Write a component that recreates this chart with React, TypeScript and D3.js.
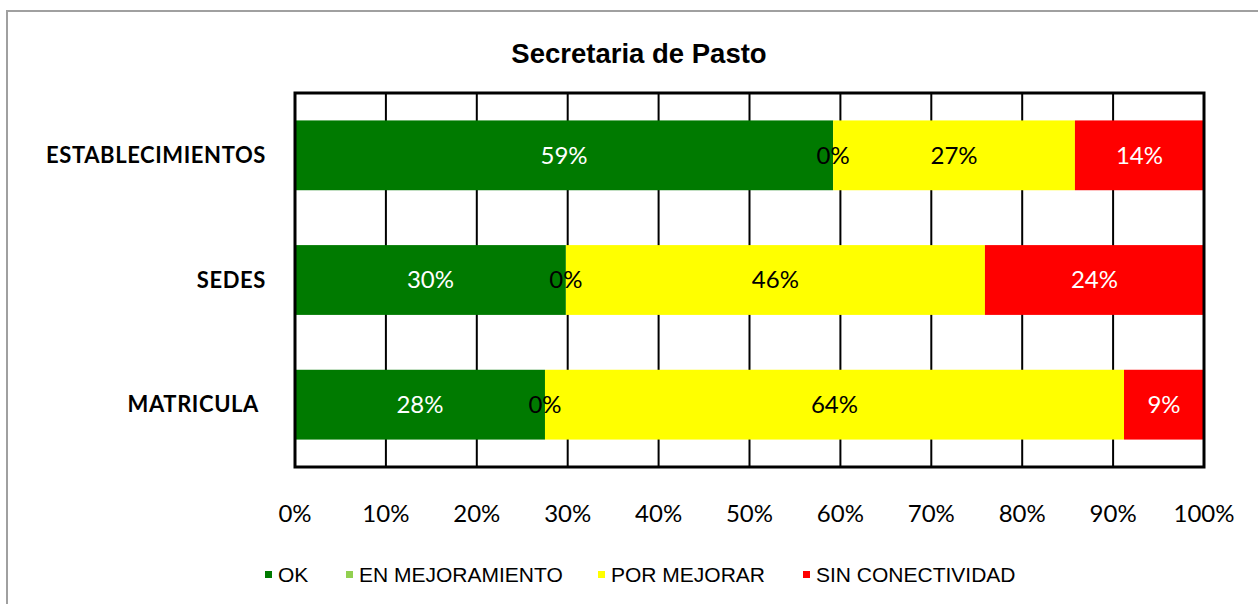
import * as d3 from "d3";

const W = 1258;
const H = 604;
const PLOT = { left: 295, right: 1204, top: 93, bottom: 467 };

const title = "Secretaria de Pasto";
const categories = ["ESTABLECIMIENTOS", "SEDES", "MATRICULA"];
const seriesNames = ["OK", "EN MEJORAMIENTO", "POR MEJORAR", "SIN CONECTIVIDAD"];
const seriesColors = ["#007a00", "#92d050", "#ffff00", "#ff0000"];
const labelColors = ["#ffffff", "#000000", "#000000", "#ffffff"];
// percentages per category, in series order
const okValues = [59.2, 29.8, 27.5];
const mejoramientoValues = [0, 0, 0];
const porMejorarValues = [26.6, 46.1, 63.7];
const sinConectividadValues = [14.2, 24.1, 8.8];
const xTicks = [0, 10, 20, 30, 40, 50, 60, 70, 80, 90, 100];

const CAL = "Lato, 'Open Sans', sans-serif";
const ARIAL = "'Liberation Sans', Arial, sans-serif";

export default function App() {
  const x = d3.scaleLinear().domain([0, 100]).range([PLOT.left, PLOT.right]);
  const y = d3
    .scaleBand()
    .domain(categories)
    .range([PLOT.top, PLOT.bottom])
    .paddingInner(0.44)
    .paddingOuter(0.22);

  const table = categories.map((c, i) => ({
    cat: c,
    v0: okValues[i],
    v1: mejoramientoValues[i],
    v2: porMejorarValues[i],
    v3: sinConectividadValues[i],
  }));
  const stack = d3.stack<any>().keys(["v0", "v1", "v2", "v3"])(table);

  const legendX = [265, 346, 598, 803];

  return (
    <div style={{ position: "fixed", left: 0, top: 0 }}>
      <svg width={W} height={H} style={{ display: "block" }}>
        <rect x={0} y={0} width={W} height={H} fill="#fff" />
        <rect x={7} y={11} width={W + 20} height={H + 20} fill="none" stroke="#a0a0a0" strokeWidth={2} />
        <text x={639} y={63} textAnchor="middle" fontFamily={ARIAL} fontWeight="bold" fontSize={27.5}>
          {title}
        </text>

        {/* gridlines */}
        {xTicks.map((t) => (
          <line key={t} x1={x(t)} x2={x(t)} y1={PLOT.top} y2={PLOT.bottom} stroke="#000" strokeWidth={2} />
        ))}

        {/* bars */}
        {stack.map((s, si) =>
          s.map((d, i) => {
            const yy = y(categories[i]) ?? 0;
            return (
              <rect
                key={si + "-" + i}
                x={x(d[0])}
                y={yy}
                width={x(d[1]) - x(d[0])}
                height={y.bandwidth()}
                fill={seriesColors[si]}
                stroke={si === 1 ? "#fff" : "none"}
                strokeWidth={si === 1 ? 3 : 0}
              />
            );
          })
        )}

        {/* frame */}
        <rect
          x={PLOT.left}
          y={PLOT.top}
          width={PLOT.right - PLOT.left}
          height={PLOT.bottom - PLOT.top}
          fill="none"
          stroke="#000"
          strokeWidth={3}
        />

        {/* data labels */}
        {stack.map((s, si) =>
          s.map((d, i) => {
            const yy = (y(categories[i]) ?? 0) + y.bandwidth() / 2;
            return (
              <text
                key={"l" + si + "-" + i}
                x={x((d[0] + d[1]) / 2)}
                y={yy}
                dy="0.35em"
                textAnchor="middle"
                fontFamily={CAL}
                fontSize={24}
                fill={labelColors[si]}
              >
                {Math.round(d[1] - d[0]) + "%"}
              </text>
            );
          })
        )}

        {/* category labels */}
        {categories.map((c) => (
          <text
            key={c}
            x={c === "MATRICULA" ? 259 : 266}
            y={(y(c) ?? 0) + y.bandwidth() / 2}
            dy="0.35em"
            textAnchor="end"
            fontFamily={CAL}
            fontWeight="bold"
            fontSize={22}
            letterSpacing={0.6}
          >
            {c}
          </text>
        ))}

        {/* x tick labels */}
        {xTicks.map((t) => (
          <text
            key={"t" + t}
            x={x(t)}
            y={514}
            dy="0.35em"
            textAnchor="middle"
            fontFamily={CAL}
            fontSize={24}
          >
            {t + "%"}
          </text>
        ))}

        {/* legend */}
        {seriesNames.map((n, i) => (
          <g key={n} transform={`translate(${legendX[i]},575)`}>
            <rect x={0} y={-4} width={7} height={7} fill={seriesColors[i]} />
            <text x={13} y={0} dy="0.35em" fontFamily={ARIAL} fontSize={21}>
              {n}
            </text>
          </g>
        ))}
      </svg>
    </div>
  );
}
